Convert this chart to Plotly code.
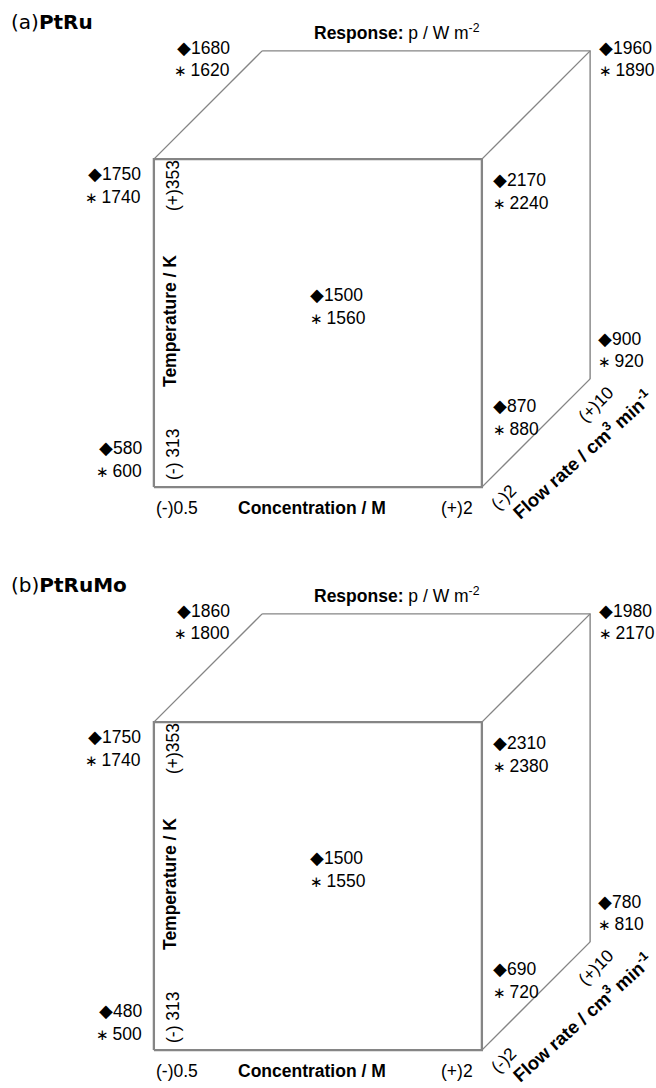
import plotly.graph_objects as go

# ---------------- data ----------------
panel_tags = ["(a)", "(b)"]
panel_names = ["PtRu", "PtRuMo"]

conc_ticks = ["(-)0.5", "(+)2"]
temp_ticks = ["(-) 313", "(+)353"]
flow_ticks = ["(-)2", "(+)10"]
conc_title = "Concentration / M"
temp_title = "Temperature / K"
flow_title = "Flow rate / cm<sup>3</sup> min<sup>-1</sup>"
resp_title = "<b>Response:</b> p / W m<sup>-2</sup>"

# coded design levels of the labelled points: concentration, temperature, flow rate
pt_conc = [-1, -1, 1, 1, -1, 1, 1, 0]
pt_temp = [-1, 1, -1, 1, 1, -1, 1, 0]
pt_flow = [-1, -1, -1, -1, 1, 1, 1, 0]

ptru_diamond = [580, 1750, 870, 2170, 1680, 900, 1960, 1500]
ptru_star = [600, 1740, 880, 2240, 1620, 920, 1890, 1560]
ptrumo_diamond = [480, 1750, 690, 2310, 1860, 780, 1980, 1500]
ptrumo_star = [500, 1740, 720, 2380, 1800, 810, 2170, 1550]

diamond_values = [ptru_diamond, ptrumo_diamond]
star_values = [ptru_star, ptrumo_star]

# ---------------- styling / geometry ----------------
W, H = 656, 1088
SCALE = 164.0          # px per coded unit
D = 0.33               # oblique depth factor
CX = [372, 372]        # px of projected cube centre
CY = [269, 832]
FONT = "Liberation Sans, Arial, sans-serif"
FS = 17.5
LINE = "#858585"
DIAMOND = "\u25C6"
STAR = "<span style='font-size:15px'>\u2217</span>\u2009"

# label placement (xanchor, dx px, dy px to first row; +dy = downward)
label_pos = [
    ("right", -10, -39),   # front bottom left
    ("right", -11, 15),    # front top left
    ("left", 9, -81),      # front bottom right
    ("left", 9, 21),       # front top right
    ("right", -30, -3),    # back top left
    ("left", 6, -40),      # back bottom right
    ("left", 7, -3),       # back top right
    ("left", -64, 26),     # centre
]
ROW = 22.5


def proj(c, t, f):
    return c + D * f, t + D * f


# visible cube edges (coded corners)
front = [(-1, -1, -1), (-1, 1, -1), (1, 1, -1), (1, -1, -1), (-1, -1, -1)]
back_edges = [
    [(-1, 1, 1), (1, 1, 1), (1, -1, 1)],
    [(-1, 1, -1), (-1, 1, 1)],
    [(1, 1, -1), (1, 1, 1)],
    [(1, -1, -1), (1, -1, 1)],
]

fig = go.Figure()
annotations = []

for k in range(2):
    xr = "x" if k == 0 else "x2"
    yr = "y" if k == 0 else "y2"

    # edges
    for path in back_edges:
        xs, ys = zip(*[proj(*p) for p in path])
        fig.add_trace(go.Scatter(x=xs, y=ys, mode="lines", xaxis=xr, yaxis=yr,
                                 line=dict(color=LINE, width=1.4), hoverinfo="skip",
                                 showlegend=False))
    xs, ys = zip(*[proj(*p) for p in front])
    fig.add_trace(go.Scatter(x=xs, y=ys, mode="lines", xaxis=xr, yaxis=yr,
                             line=dict(color=LINE, width=2.3), hoverinfo="skip",
                             showlegend=False))

    def ann(text, c, t, f, dx, dy, xanchor="center", angle=0, size=FS, family=FONT):
        x, y = proj(c, t, f)
        annotations.append(dict(
            text=text, x=x, y=y, xref=xr, yref=yr, xshift=dx, yshift=-dy,
            xanchor=xanchor, yanchor="middle", showarrow=False, textangle=angle,
            font=dict(family=family, size=size, color="black")))

    # response values
    for i in range(len(pt_conc)):
        xa, dx, dy = label_pos[i]
        c, t, f = pt_conc[i], pt_temp[i], pt_flow[i]
        ann(DIAMOND + str(diamond_values[k][i]), c, t, f, dx, dy, xa)
        ann(STAR + str(star_values[k][i]), c, t, f, dx, dy + ROW, xa)

    # axis tick labels and titles
    ann(conc_ticks[0], -1, -1, -1, 23, 21)
    ann(conc_ticks[1], 1, -1, -1, -25, 21)
    ann("<b>" + conc_title + "</b>", 0, -1, -1, -6, 21)
    ann(temp_ticks[1], -1, 1, -1, 19, 26, angle=-90)
    ann(temp_ticks[0], -1, -1, -1, 19, -33, angle=-90)
    ann("<b>" + temp_title + "</b>", -1, 0, -1, 16, -2, angle=-90)
    ann(flow_ticks[0], 1, -1, -1, 22, 10, angle=-45)
    ann(flow_ticks[1], 1, -1, 1, 6, 25, angle=-45)
    ann("<b>" + flow_title + "</b>", 1, -1, 0, 46, 21, angle=-42, size=18.5)
    ann(resp_title, 0, 1, 1, -29, -19)

    # panel title
    annotations.append(dict(
        text=panel_tags[k] + "<b>" + panel_names[k] + "</b>",
        x=9 / W, y=1 - (22 + 563 * k) / H, xref="paper", yref="paper",
        xanchor="left", yanchor="middle", showarrow=False,
        font=dict(family="DejaVu Sans", size=20, color="black")))

x_range = [-CX[0] / SCALE, (W - CX[0]) / SCALE]
ya_range = [-(H / 2 - CY[0]) / SCALE, CY[0] / SCALE]
yb_range = [(CY[1] - H) / SCALE, (CY[1] - H / 2) / SCALE]

ax = dict(visible=False, showgrid=False, zeroline=False, fixedrange=True)
fig.update_layout(
    width=W, height=H,
    margin=dict(l=0, r=0, t=0, b=0),
    paper_bgcolor="white", plot_bgcolor="white",
    xaxis=dict(domain=[0, 1], range=x_range, anchor="y", **ax),
    yaxis=dict(domain=[0.5, 1], range=ya_range, anchor="x", **ax),
    xaxis2=dict(domain=[0, 1], range=x_range, anchor="y2", **ax),
    yaxis2=dict(domain=[0, 0.5], range=yb_range, anchor="x2", **ax),
    annotations=annotations,
    showlegend=False,
)

fig.write_html("out.html", config={"displayModeBar": False},
               post_script="document.body.style.margin='0';document.body.style.overflow='hidden';")
